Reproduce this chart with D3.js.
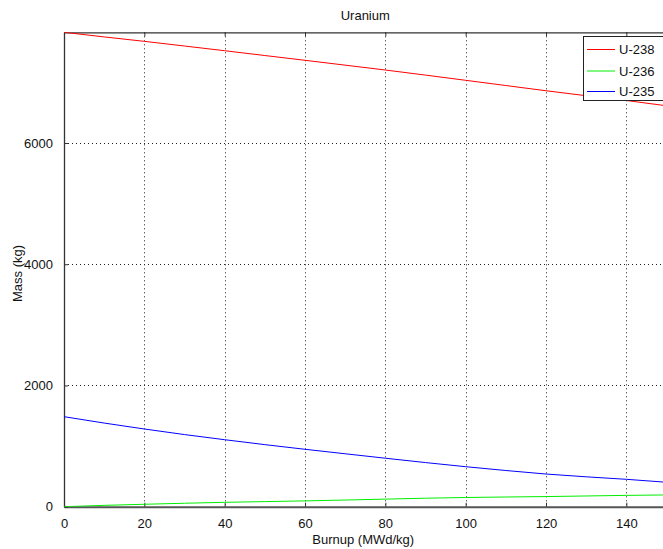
<!DOCTYPE html>
<html><head><meta charset="utf-8">
<script src="https://cdn.jsdelivr.net/npm/d3@7"></script>
<style>
html,body{margin:0;padding:0;background:#fff;overflow:hidden}
text{font-family:"Liberation Sans",Arial,Helvetica,sans-serif;}
</style></head>
<body>
<svg id="chart" width="663" height="549"></svg>
<script>
const burnup = [0,10,20,30,40,50,60,70,80,90,100,110,120,130,140,150];
const u238 = [7826,7750,7677,7600,7522,7443,7364,7284,7204,7120,7034,6948,6862,6780,6701,6614];
const u236 = [0,22,40,57,72,84,96,110,125,140,152,160,167,177,187,194];
const u235 = [1485,1380,1282,1190,1105,1024,947,873,800,728,660,597,539,493,452,403];
const seriesNames = ["U-238","U-236","U-235"];
const seriesColors = ["#ff0000","#00ee00","#0000ff"];
const xTicks = [0,20,40,60,80,100,120,140];
const yTicks = [0,2000,4000,6000];
const titleText = "Uranium";
const xLabel = "Burnup (MWd/kg)";
const yLabel = "Mass (kg)";

const svg = d3.select("#chart");
const L = 64, R = 666.5, T = 32.3, B = 506.7;
const x = d3.scaleLinear().domain([0,150]).range([L,R]);
const y = d3.scaleLinear().domain([0,7826]).range([B,T]);
const fs = 13;

svg.append("defs").append("clipPath").attr("id","clip")
  .append("rect").attr("x",L).attr("y",T).attr("width",R-L).attr("height",B-T);

// grid
const grid = svg.append("g");
grid.selectAll(".gx").data(xTicks.filter(d=>d>0)).join("line")
  .attr("x1",d=>Math.round(x(d))+0.5).attr("x2",d=>Math.round(x(d))+0.5)
  .attr("y1",T).attr("y2",B)
  .attr("stroke","#222").attr("stroke-width",1).attr("stroke-dasharray","1,3");
grid.selectAll(".gy").data(yTicks.filter(d=>d>0)).join("line")
  .attr("y1",d=>Math.round(y(d))+0.5).attr("y2",d=>Math.round(y(d))+0.5)
  .attr("x1",L).attr("x2",R)
  .attr("stroke","#222").attr("stroke-width",1).attr("stroke-dasharray","1,3");

// axes
const xAxis = d3.axisBottom(x).tickValues(xTicks).tickSizeInner(-4).tickSizeOuter(0).tickPadding(12);
const gx = svg.append("g").attr("transform",`translate(0,${B})`).call(xAxis);
const xAxisTop = d3.axisTop(x).tickValues(xTicks).tickSizeInner(-4).tickSizeOuter(0).tickFormat("");
const gxt = svg.append("g").attr("transform",`translate(0,${T})`).call(xAxisTop);
const yAxis = d3.axisLeft(y).tickValues(yTicks).tickSizeInner(-4).tickSizeOuter(0).tickPadding(11).tickFormat(d3.format("d"));
const gy = svg.append("g").attr("transform",`translate(${L},0)`).call(yAxis);
[gx,gxt,gy].forEach(g=>{
  g.select(".domain").attr("stroke","#333").attr("stroke-width",1.3);
  g.selectAll(".tick line").attr("stroke","#333");
  g.selectAll(".tick text").attr("fill","#111").style("font-size",fs+"px").style("font-family","Liberation Sans, Arial, sans-serif");
});
gx.select(".domain").attr("stroke","#555").attr("stroke-width",2);

// lines
const seriesData = [u238,u236,u235];
const line = d3.line().x((d,i)=>x(burnup[i])).y(d=>y(d));
svg.append("g").attr("clip-path","url(#clip)")
  .selectAll("path").data(seriesData).join("path")
  .attr("d",d=>line(d)).attr("fill","none")
  .attr("stroke",(d,i)=>seriesColors[i]).attr("stroke-width",1);

// title and labels
svg.append("text").attr("x",(L+R)/2).attr("y",20).attr("text-anchor","middle")
  .style("font-size",fs+"px").attr("fill","#111").text(titleText);
svg.append("text").attr("x",(L+R)/2 - 2).attr("y",544).attr("text-anchor","middle")
  .style("font-size",fs+"px").attr("fill","#111").text(xLabel);
svg.append("text").attr("transform",`translate(22,${(T+B)/2+4}) rotate(-90)`).attr("text-anchor","middle")
  .style("font-size",fs+"px").attr("fill","#111").text(yLabel);

// legend
const lg = svg.append("g");
lg.append("rect").attr("x",583.5).attr("y",36.5).attr("width",90).attr("height",64)
  .attr("fill","#fff").attr("stroke","#222").attr("stroke-width",1);
const rows = [49.5,71,91.5];
seriesNames.forEach((n,i)=>{
  lg.append("line").attr("x1",587).attr("x2",615).attr("y1",rows[i]).attr("y2",rows[i])
    .attr("stroke",seriesColors[i]).attr("stroke-width",1);
  lg.append("text").attr("x",619).attr("y",rows[i]+4.5).style("font-size",fs+"px")
    .attr("fill","#111").text(n);
});
</script>
</body></html>
